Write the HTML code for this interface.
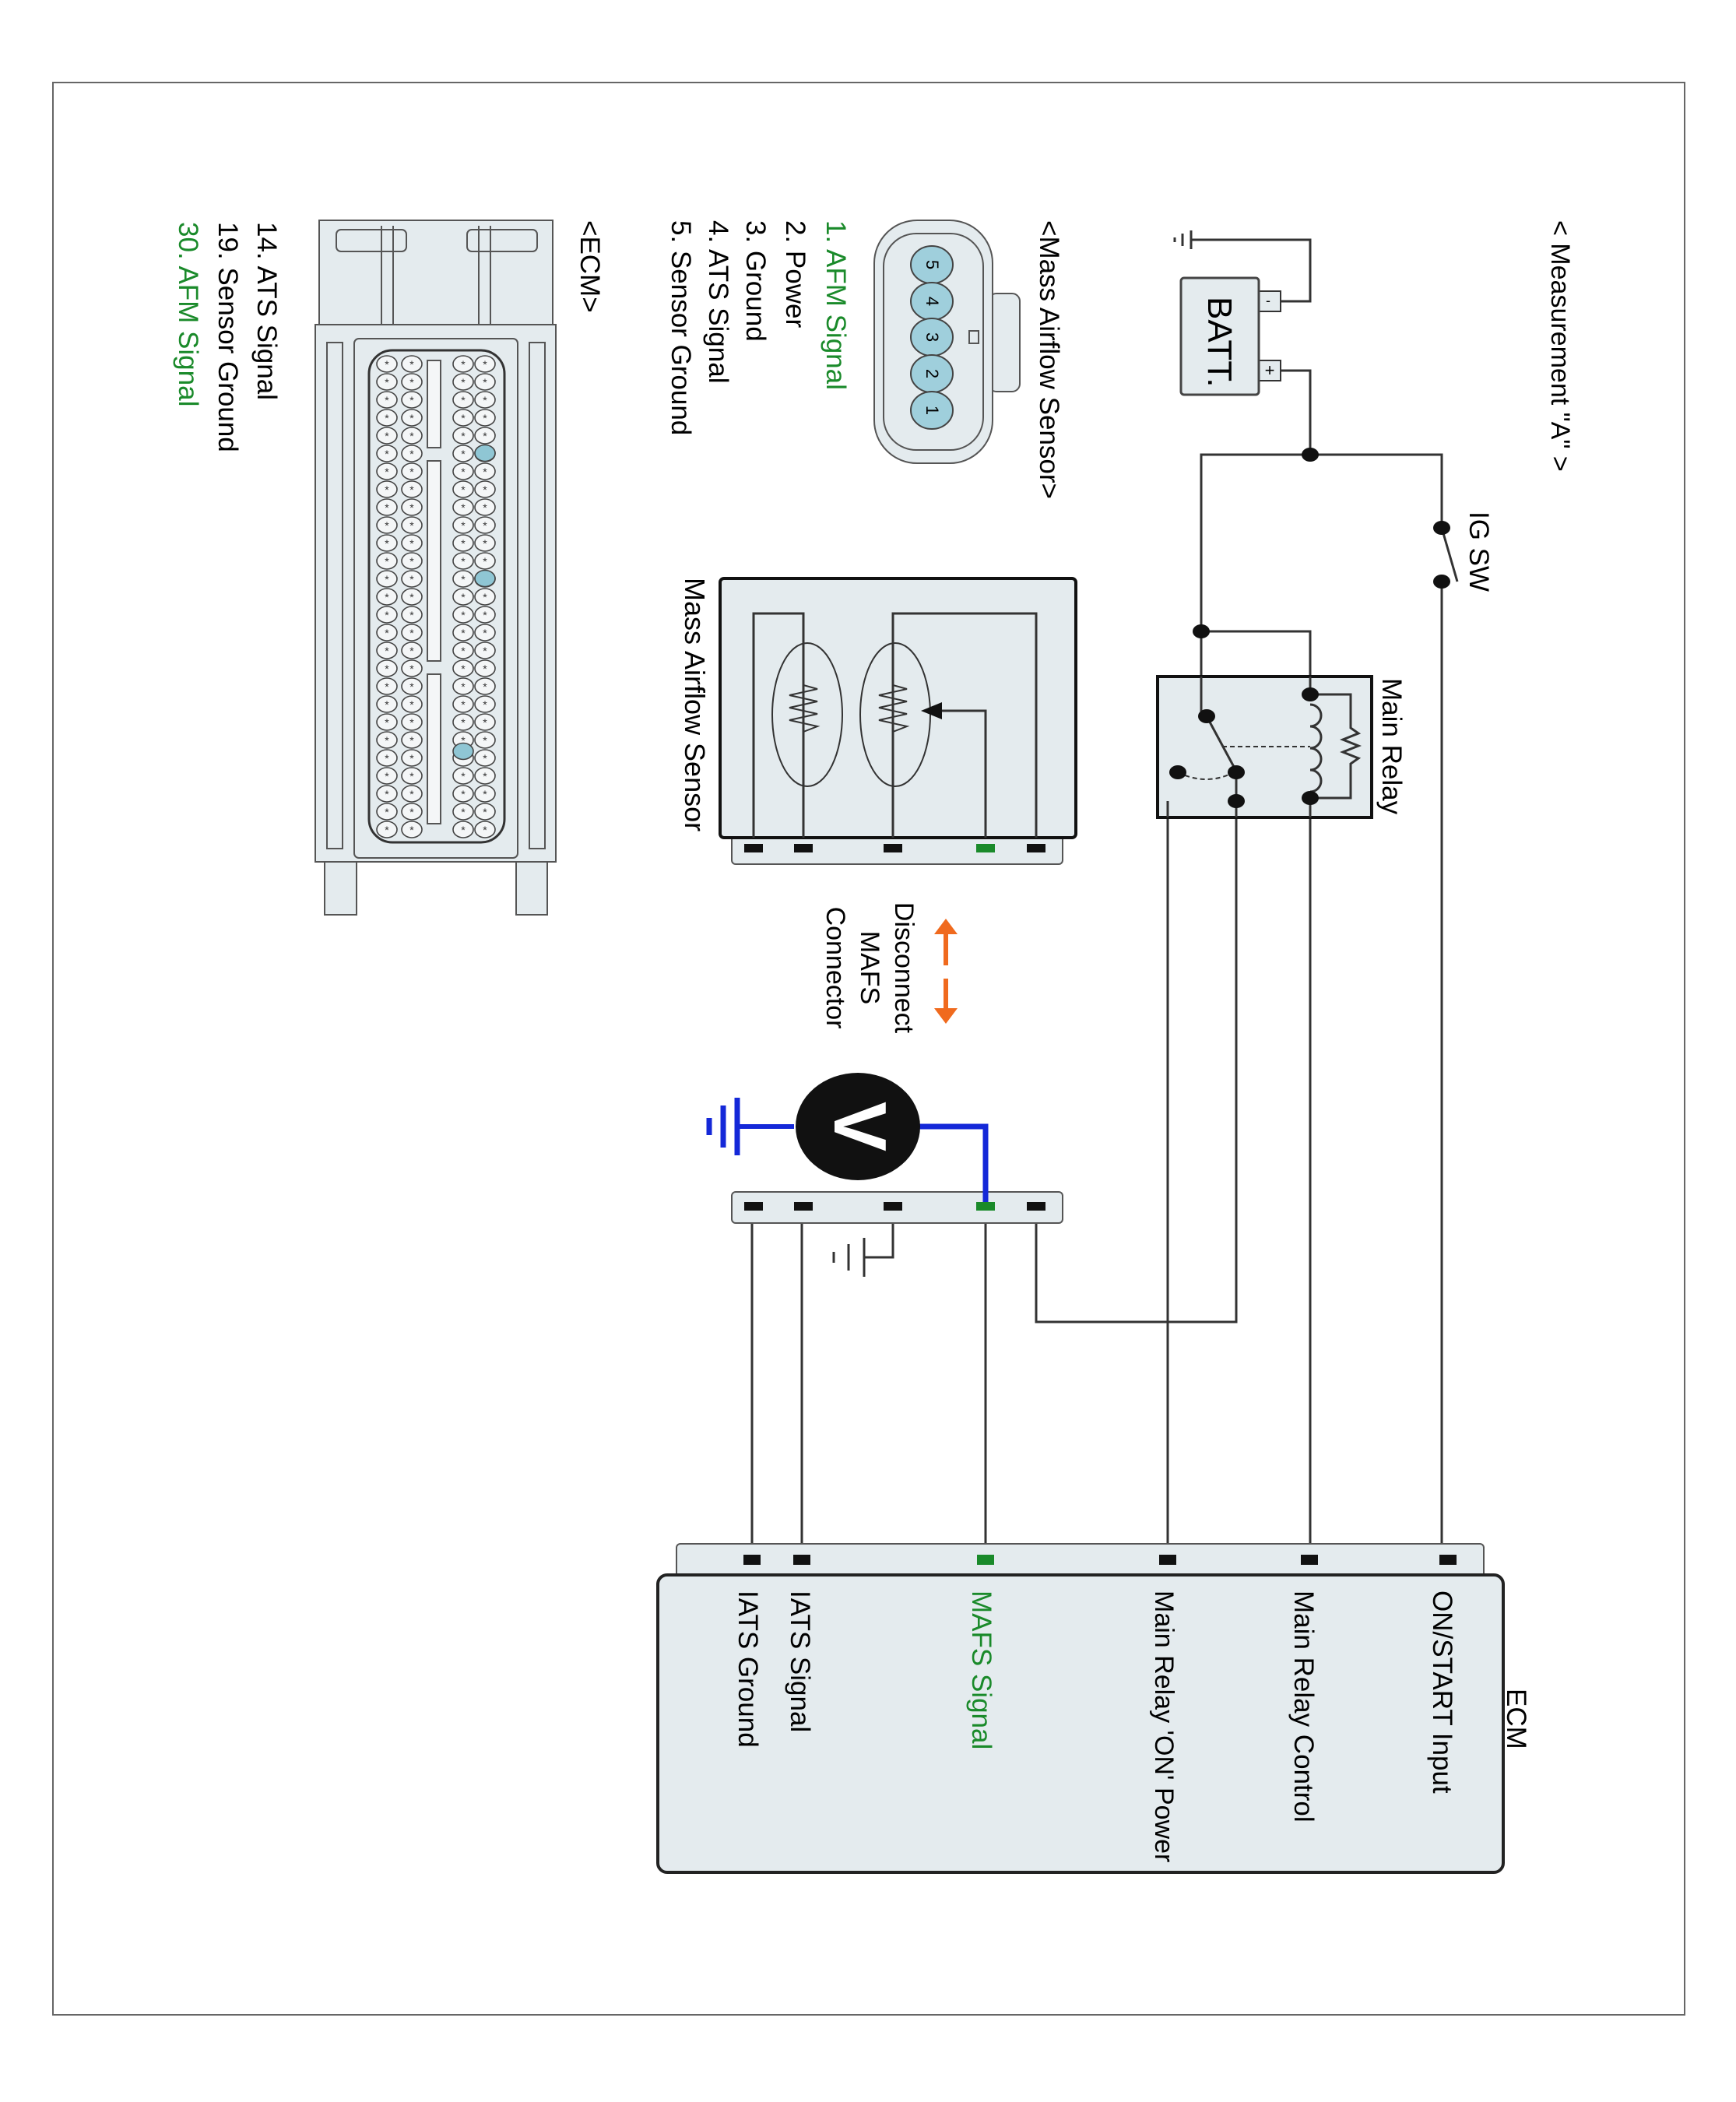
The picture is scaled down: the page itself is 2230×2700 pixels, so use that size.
<!DOCTYPE html>
<html><head><meta charset="utf-8"><style>
html,body{margin:0;padding:0;background:#fff;}
svg{display:block;}
text{font-family:"Liberation Sans",Arial,sans-serif;}
</style></head><body>
<svg width="2230" height="2700" viewBox="0 0 2230 2700" xmlns="http://www.w3.org/2000/svg">
<rect x="0" y="0" width="2230" height="2700" fill="#fff"/>
<rect x="68" y="106" width="2096" height="2482" fill="none" stroke="#666" stroke-width="2"/>

<g stroke="#333" stroke-width="3" fill="none">
<polyline points="1645,387 1683,387 1683,308 1530,308"/>
<polyline points="1645,476 1683,476 1683,584"/>
<polyline points="1543,1029 1543,584 1852,584 1852,678"/>
<polyline points="1852,747 1852,2003"/>
<polyline points="1543,811 1683,811 1683,2003"/>
<polyline points="1588,1029 1588,1698 1331,1698 1331,1553"/>
<polyline points="1588,1029 1500,1029 1500,2003"/>
<line x1="966" y1="1553" x2="966" y2="2003"/>
<line x1="1030" y1="1553" x2="1030" y2="2003"/>
<line x1="1266" y1="1553" x2="1266" y2="2003"/>
<polyline points="1147,1553 1147,1615 1110,1615"/>
<line x1="1110" y1="1590" x2="1110" y2="1640"/>
<line x1="1090" y1="1598" x2="1090" y2="1632"/>
<line x1="1071" y1="1608" x2="1071" y2="1622"/>
<line x1="1530" y1="296" x2="1530" y2="320"/>
<line x1="1519" y1="300" x2="1519" y2="316"/>
<line x1="1509" y1="305" x2="1509" y2="311"/>
</g>
<line x1="1852" y1="678" x2="1872" y2="747" stroke="#333" stroke-width="3"/>
<g fill="#111">
<ellipse cx="1683" cy="584" rx="11" ry="9"/>
<ellipse cx="1852" cy="678" rx="11" ry="9"/>
<ellipse cx="1852" cy="747" rx="11" ry="9"/>
<ellipse cx="1543" cy="811" rx="11" ry="9"/>
</g>

<rect x="1617" y="374" width="28" height="26" fill="#e4ebee" stroke="#333" stroke-width="2"/>
<rect x="1617" y="463" width="28" height="26" fill="#e4ebee" stroke="#333" stroke-width="2"/>
<text x="1629" y="392" font-size="18" text-anchor="middle">-</text>
<text x="1631" y="483" font-size="22" text-anchor="middle">+</text>
<rect x="1517" y="357" width="100" height="150" rx="4" fill="#e4ebee" stroke="#444" stroke-width="3"/>
<text transform="translate(1552,381) rotate(90)" font-size="44">BATT.</text>

<rect x="1487" y="869" width="275" height="181" fill="#e4ebee" stroke="#111" stroke-width="4"/>
<g stroke="#333" stroke-width="3" fill="none">
<line x1="1543" y1="869" x2="1543" y2="920"/>
<line x1="1683" y1="869" x2="1683" y2="892"/>
<line x1="1683" y1="1025" x2="1683" y2="1050"/>
<line x1="1550" y1="920" x2="1585" y2="985"/>
<line x1="1588" y1="992" x2="1588" y2="1050"/>
<line x1="1500" y1="1029" x2="1500" y2="1050"/>
<polyline points="1683,892 1735,892 1735,935 1745,942 1725,950 1745,958 1725,966 1745,974 1735,981 1735,1025 1683,1025"/>
<path d="M1683,905 a14,14 0 0 1 0,28 a14,14 0 0 1 0,28 a14,14 0 0 1 0,28 a14,14 0 0 1 0,28"/>
<line x1="1570" y1="959" x2="1683" y2="959" stroke-dasharray="6,4" stroke-width="2"/>
<path d="M1513,992 Q1550,1010 1585,992" stroke-dasharray="6,4" stroke-width="2"/>
</g>
<g fill="#111">
<ellipse cx="1550" cy="920" rx="11" ry="9"/>
<ellipse cx="1588" cy="992" rx="11" ry="9"/>
<ellipse cx="1588" cy="1029" rx="11" ry="9"/>
<ellipse cx="1513" cy="992" rx="11" ry="9"/>
<ellipse cx="1683" cy="892" rx="11" ry="9"/>
<ellipse cx="1683" cy="1025" rx="11" ry="9"/>
</g>

<rect x="940" y="1070" width="425" height="40" rx="5" fill="#e4ebee" stroke="#555" stroke-width="2"/>
<rect x="925" y="743" width="457" height="333" rx="5" fill="#e4ebee" stroke="#111" stroke-width="4"/>
<g stroke="#333" stroke-width="3" fill="none">
<polyline points="968,1076 968,788 1032,788 1032,1076"/>
<polyline points="1147,1076 1147,788 1331,788 1331,1076"/>
<polyline points="1266,1076 1266,913 1195,913"/>
<polyline points="1032,880 1050,885 1014,893 1050,901 1014,909 1050,917 1014,925 1050,933 1032,940" stroke-width="2"/>
<polyline points="1147,880 1165,885 1129,893 1165,901 1129,909 1165,917 1129,925 1165,933 1147,940" stroke-width="2"/>
<ellipse cx="1037" cy="918" rx="45" ry="92" stroke-width="2" fill="none"/>
<ellipse cx="1150" cy="918" rx="45" ry="92" stroke-width="2" fill="none"/>
</g>
<polygon points="1183,913 1210,902 1210,924" fill="#111"/>
<g fill="#111">
<rect x="956" y="1084" width="24" height="11"/>
<rect x="1020" y="1084" width="24" height="11"/>
<rect x="1135" y="1084" width="24" height="11"/>
<rect x="1319" y="1084" width="24" height="11"/>
</g>
<rect x="1254" y="1084" width="24" height="11" fill="#1a8a2a"/>
<text transform="translate(880,742) rotate(90)" font-size="36">Mass Airflow Sensor</text>

<g fill="#f06a1e">
<polygon points="1215,1180 1200,1200 1230,1200"/><rect x="1212" y="1198" width="6" height="42"/>
<rect x="1212" y="1257" width="6" height="40"/><polygon points="1215,1315 1200,1295 1230,1295"/>
</g>
<text font-size="34" text-anchor="middle" transform="translate(1150,1243) rotate(90)">Disconnect</text>
<text font-size="34" text-anchor="middle" transform="translate(1106,1243) rotate(90)">MAFS</text>
<text font-size="34" text-anchor="middle" transform="translate(1062,1243) rotate(90)">Connector</text>

<rect x="940" y="1531" width="425" height="40" rx="5" fill="#e4ebee" stroke="#555" stroke-width="2"/>
<g fill="#111">
<rect x="956" y="1544" width="24" height="11"/>
<rect x="1020" y="1544" width="24" height="11"/>
<rect x="1135" y="1544" width="24" height="11"/>
<rect x="1319" y="1544" width="24" height="11"/>
</g>
<polyline points="1266,1548 1266,1447 1180,1447" fill="none" stroke="#1428d8" stroke-width="7"/>
<line x1="1020" y1="1447" x2="947" y2="1447" stroke="#1428d8" stroke-width="6"/>
<line x1="947" y1="1410" x2="947" y2="1484" stroke="#1428d8" stroke-width="7"/>
<line x1="929" y1="1420" x2="929" y2="1474" stroke="#1428d8" stroke-width="7"/>
<line x1="911" y1="1436" x2="911" y2="1458" stroke="#1428d8" stroke-width="7"/>
<rect x="1254" y="1544" width="24" height="11" fill="#1a8a2a"/>
<ellipse cx="1102" cy="1447" rx="80" ry="69" fill="#111"/>
<text transform="translate(1072,1447) rotate(90)" font-size="96" font-weight="bold" fill="#fff" text-anchor="middle">V</text>

<rect x="869" y="1983" width="1037" height="50" rx="5" fill="#e4ebee" stroke="#555" stroke-width="2"/>
<rect x="845" y="2023" width="1086" height="382" rx="12" fill="#e4ebee" stroke="#222" stroke-width="4"/>
<g fill="#111">
<rect x="955" y="1997" width="22" height="13"/>
<rect x="1019" y="1997" width="22" height="13"/>
<rect x="1489" y="1997" width="22" height="13"/>
<rect x="1671" y="1997" width="22" height="13"/>
<rect x="1849" y="1997" width="22" height="13"/>
</g>
<rect x="1255" y="1997" width="22" height="13" fill="#1a8a2a"/>
<g font-size="35">
<text transform="translate(1841,2043) rotate(90)">ON/START Input</text>
<text transform="translate(1663,2043) rotate(90)">Main Relay Control</text>
<text transform="translate(1484,2043) rotate(90)" font-size="34">Main Relay 'ON' Power</text>
<text transform="translate(1249,2043) rotate(90)" fill="#1a8a2a">MAFS Signal</text>
<text transform="translate(1016,2043) rotate(90)">IATS Signal</text>
<text transform="translate(949,2043) rotate(90)">IATS Ground</text>
<text transform="translate(1936,2169) rotate(90)">ECM</text>
<text transform="translate(1993,283) rotate(90)" font-size="34">&lt; Measurement "A" &gt;</text>
<text transform="translate(1888,657) rotate(90)">IG SW</text>
<text transform="translate(1776,871) rotate(90)">Main Relay</text>
<text transform="translate(1336,283) rotate(90)">&lt;Mass Airflow Sensor&gt;</text>
<text transform="translate(1062,283) rotate(90)" fill="#1a8a2a">1. AFM Signal</text>
<text transform="translate(1010,283) rotate(90)">2. Power</text>
<text transform="translate(959,283) rotate(90)">3. Ground</text>
<text transform="translate(911,283) rotate(90)">4. ATS Signal</text>
<text transform="translate(863,283) rotate(90)">5. Sensor Ground</text>
<text transform="translate(746,283) rotate(90)">&lt;ECM&gt;</text>
<text transform="translate(331,285) rotate(90)">14. ATS Signal</text>
<text transform="translate(281,285) rotate(90)">19. Sensor Ground</text>
<text transform="translate(230,285) rotate(90)" fill="#1a8a2a">30. AFM Signal</text>
</g>

<rect x="1270" y="377" width="40" height="126" rx="10" fill="#e4ebee" stroke="#555" stroke-width="2"/>
<rect x="1123" y="283" width="152" height="312" rx="55" fill="#e4ebee" stroke="#555" stroke-width="2"/>
<rect x="1135" y="300" width="128" height="278" rx="42" fill="none" stroke="#555" stroke-width="2"/>
<rect x="1245" y="425" width="12" height="16" fill="none" stroke="#555" stroke-width="2"/>
<g fill="#9fcfdc" stroke="#444" stroke-width="2">
<ellipse cx="1197" cy="340" rx="27" ry="24"/>
<ellipse cx="1197" cy="387" rx="27" ry="24"/>
<ellipse cx="1197" cy="433" rx="27" ry="24"/>
<ellipse cx="1197" cy="480" rx="27" ry="24"/>
<ellipse cx="1197" cy="527" rx="27" ry="24"/>
</g>
<g font-size="22" text-anchor="middle">
<text transform="translate(1190,340) rotate(90)">5</text>
<text transform="translate(1190,387) rotate(90)">4</text>
<text transform="translate(1190,433) rotate(90)">3</text>
<text transform="translate(1190,480) rotate(90)">2</text>
<text transform="translate(1190,527) rotate(90)">1</text>
</g>

<defs>
<pattern id="pins" x="0" y="456" width="40" height="23" patternUnits="userSpaceOnUse">
<ellipse cx="20" cy="11.5" rx="13" ry="10.5" fill="#f4f6f7" stroke="#444" stroke-width="1.6"/>
<text x="20" y="17" font-size="14" text-anchor="middle" fill="#333">*</text>
</pattern>
</defs>
<g stroke="#555" stroke-width="2" fill="#e4ebee">
<rect x="410" y="283" width="300" height="136"/>
<rect x="432" y="295" width="90" height="28" rx="6"/>
<rect x="600" y="295" width="90" height="28" rx="6"/>
<line x1="490" y1="290" x2="490" y2="419"/><line x1="505" y1="290" x2="505" y2="419"/>
<line x1="615" y1="290" x2="615" y2="419"/><line x1="630" y1="290" x2="630" y2="419"/>
<rect x="405" y="417" width="309" height="690"/>
<rect x="420" y="440" width="20" height="650"/>
<rect x="680" y="440" width="20" height="650"/>
<rect x="455" y="435" width="210" height="667" rx="6"/>
<rect x="474" y="450" width="174" height="632" rx="30" stroke="#333" stroke-width="3"/>
<rect x="417" y="1107" width="41" height="68"/>
<rect x="663" y="1107" width="40" height="68"/>
</g>
<rect x="0" y="456" width="40" height="621" fill="url(#pins)" transform="translate(477,0)"/>
<rect x="0" y="456" width="40" height="621" fill="url(#pins)" transform="translate(509,0)"/>
<rect x="0" y="456" width="40" height="621" fill="url(#pins)" transform="translate(575,0)"/>
<rect x="0" y="456" width="40" height="621" fill="url(#pins)" transform="translate(603,0)"/>
<g fill="#f4f6f7" stroke="#555" stroke-width="2">
<rect x="549" y="463" width="17" height="112"/>
<rect x="549" y="592" width="17" height="257"/>
<rect x="549" y="866" width="17" height="192"/>
</g>
<g fill="#8fc6d4" stroke="#444" stroke-width="1.6">
<ellipse cx="623" cy="582" rx="13" ry="10.5"/>
<ellipse cx="623" cy="743" rx="13" ry="10.5"/>
<ellipse cx="595" cy="965" rx="13" ry="10.5"/>
</g>
</svg>
</body></html>
